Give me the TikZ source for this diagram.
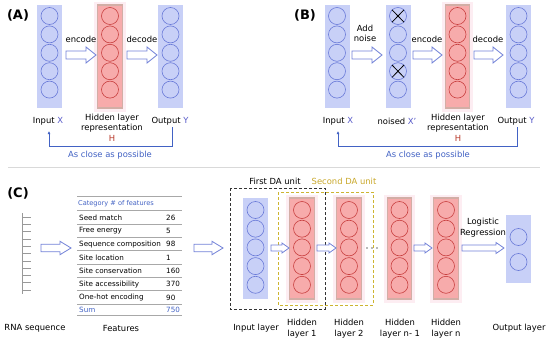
\documentclass[tikz,border=0pt]{standalone}
\usepackage{fontspec}
\setmainfont{DejaVu Sans}
\usetikzlibrary{arrows.meta}
\definecolor{bfill}{HTML}{C8D0F7}
\definecolor{bcircc}{HTML}{6A7AD8}
\definecolor{rfill}{HTML}{F7ABAB}
\definecolor{rborder}{HTML}{D2AEA6}
\definecolor{rcircc}{HTML}{C84040}
\definecolor{halopink}{HTML}{FDEDF2}
\definecolor{arrline}{HTML}{7282D8}
\definecolor{tblue}{HTML}{4262C4}
\definecolor{xblue}{HTML}{5558C8}
\definecolor{hred}{HTML}{B83A2A}
\definecolor{dagold}{HTML}{CDB430}
\definecolor{dagoldtext}{HTML}{C9A82A}
\definecolor{tline}{HTML}{A8A8A8}
\tikzset{
  bcol/.style={rectangle, fill=bfill, draw=none, minimum width=25pt, inner sep=0},
  rcol/.style={rectangle, fill=rfill, draw=rborder, line width=1.2pt, minimum width=24.5pt, inner sep=0,
     preaction={draw=halopink, line width=7pt}},
  bcirc/.style={draw=bcircc, line width=0.6pt},
  rcirc/.style={draw=rcircc, line width=0.6pt},
  lbl/.style={font=\fontsize{8.4}{10.5}\selectfont, inner sep=0, align=center},
  tbl/.style={font=\fontsize{7.2}{8}\selectfont, inner sep=0, anchor=west},
  tblh/.style={font=\fontsize{6.6}{8}\selectfont, inner sep=0, anchor=west},
  ttl/.style={font=\fontsize{13}{14}\selectfont\bfseries, inner sep=0},
  barr/.style={draw=arrline, fill=white, line width=0.8pt, line join=miter},
  fb/.style={draw=tblue, line width=0.7pt, -{Latex[length=3pt,width=3pt]}},
  tl/.style={draw=tline, line width=0.7pt},
}
\newcommand{\nnlayer}[6]{%
  \node[#2col, minimum height={#5-#4}] (#1) at (#3,{(#4+#5)/2}) {};
  \foreach \cy in {#6} \draw[#2circ] (#3,\cy) circle[radius=8.5];
}
% x1, x2, y, shaft half, head half, head length
\newcommand{\barrow}[6]{%
  \draw[barr] (#1,{#3-#4}) -- ({#2-#6},{#3-#4}) -- ({#2-#6},{#3-#5}) -- (#2,#3)
   -- ({#2-#6},{#3+#5}) -- ({#2-#6},{#3+#4}) -- (#1,{#3+#4}) -- cycle;
}
\begin{document}
\begin{tikzpicture}[x=1pt,y=-1pt]
\useasboundingbox (0,0) rectangle (550,343);
\fill[white] (0,0) rectangle (550,343);

% ---------- Panel A ----------
\node[ttl] (tA) at (18,15) {(A)};
\nnlayer{inA}{b}{49.5}{5}{108}{16,34.4,52.8,71.2,89.6}
\nnlayer{hidA}{r}{110}{5}{108}{16,34.4,52.8,71.2,89.6}
\nnlayer{outA}{b}{170.5}{5}{108}{16,34.4,52.8,71.2,89.6}
\barrow{66}{96}{55}{4}{8}{10}
\barrow{127}{157}{55}{4}{8}{10}
\node[lbl] (encA) at (81,39) {encode};
\node[lbl] (decA) at (142,39) {decode};
\node[lbl] (inAl) at (48,121) {Input \textcolor{xblue}{X}};
\node[lbl] (hidAl) at (112,127.5) {Hidden layer\\representation\\\textcolor{hred}{H}};
\node[lbl] (outAl) at (170,121) {Output \textcolor{xblue}{Y}};
\coordinate (fbA1) at (172,127);
\coordinate (fbA2) at (49,146);
\coordinate (fbA3) at (49,131);
\draw[fb] (fbA1) |- (fbA2) -- (fbA3);
\node[lbl, text=tblue] (closeA) at (110,155) {As close as possible};

% ---------- Panel B ----------
\node[ttl] (tB) at (305,15) {(B)};
\nnlayer{inB}{b}{337}{5}{108}{16,34.4,52.8,71.2,89.6}
\nnlayer{noB}{b}{398}{5}{108}{16,34.4,52.8,71.2,89.6}
\nnlayer{hidB}{r}{457.5}{5}{108}{16,34.4,52.8,71.2,89.6}
\nnlayer{outB}{b}{518.5}{5}{108}{16,34.4,52.8,71.2,89.6}
\foreach \cy in {16,71.2} {
  \draw[black, line width=0.8pt] (392,\cy-6.2) -- (404,\cy+6.2);
  \draw[black, line width=0.8pt] (392,\cy+6.2) -- (404,\cy-6.2);
}
\barrow{352}{382}{55}{4}{8}{10}
\barrow{413}{442}{55}{4}{8}{10}
\barrow{474}{503}{55}{4}{8}{10}
\node[lbl] (noiseB) at (365,33.5) {Add\\noise};
\node[lbl] (encB) at (427,39) {encode};
\node[lbl] (decB) at (488,39) {decode};
\node[lbl] (inBl) at (338,121) {Input \textcolor{xblue}{X}};
\node[lbl] (noBl) at (397,121) {noised \textcolor{xblue}{X'}};
\node[lbl] (hidBl) at (458,127.5) {Hidden layer\\representation\\\textcolor{hred}{H}};
\node[lbl] (outBl) at (516,121) {Output \textcolor{xblue}{Y}};
\coordinate (fbB1) at (517,127);
\coordinate (fbB2) at (338,146);
\coordinate (fbB3) at (338,131);
\draw[fb] (fbB1) |- (fbB2) -- (fbB3);
\node[lbl, text=tblue] (closeB) at (428,155) {As close as possible};

% separator
\draw[draw=black!15, line width=0.6pt] (8,167) -- (540,167);

% ---------- Panel C ----------
\node[ttl] (tC) at (18,193) {(C)};
% RNA sequence
\draw[draw=black!40, line width=0.8pt] (22,213) -- (22,294);
\foreach \k in {0,...,10} \draw[draw=black!40, line width=0.6pt] (22,{217+7.3*\k}) -- (31,{217+7.3*\k});
\node[lbl] (rnal) at (35,328) {RNA sequence};
\barrow{41}{71}{248}{3.7}{6.7}{11}

% Table
\draw[tl] (77,196.7) -- (182,196.7);
\foreach \k in {0,...,7} \draw[tl] (77,{210.7+13.33*\k}) -- (182,{210.7+13.33*\k});
\draw[tl] (77,315) -- (182,315);
\node[tblh, text=tblue] (thead) at (78,204) {Category \# of features};
\foreach \name/\num [count=\i from 0] in {Seed match/26, Free energy/5, Sequence composition/98,
   Site location/1, Site conservation/160, Site accessibility/370, One-hot encoding/90} {
  \node[tbl] at (79,{217.4+13.33*\i}) {\name};
  \node[tbl] at (166,{217.4+13.33*\i}) {\num};
}
\node[tbl, text=tblue] (sumt) at (79,310) {Sum};
\node[tbl, text=tblue] (sumn) at (166,310) {750};
\node[lbl] (featl) at (121,328) {Features};
\barrow{194}{223}{248}{3.7}{6.7}{11}

% layers
\nnlayer{inC}{b}{255.5}{198}{299}{210,228.7,247.4,266.1,284.8}
\nnlayer{h1}{r}{302}{198}{299}{210,228.7,247.4,266.1,284.8}
\nnlayer{h2}{r}{349}{198}{299}{210,228.7,247.4,266.1,284.8}
\nnlayer{hn1}{r}{399.5}{198}{299}{210,228.7,247.4,266.1,284.8}
\nnlayer{hn}{r}{446}{198}{299}{210,228.7,247.4,266.1,284.8}
\nnlayer{outC}{b}{518.5}{215}{283}{237,262}

% dashed DA units
\draw[black!80, line width=0.9pt, dash pattern=on 3pt off 2pt] (230,188) rectangle (325,309);
\draw[dagold, line width=0.9pt, dash pattern=on 3pt off 2pt] (278,192) rectangle (373,305);
\node[lbl] (da1) at (275,181) {First DA unit};
\node[lbl, text=dagoldtext] (da2) at (344,181) {Second DA unit};

\barrow{271}{289}{248}{3}{5}{7}
\barrow{317}{336}{248}{3}{5}{7}
\barrow{414}{432}{248}{3}{5}{7}
\barrow{462}{504}{248}{3}{5.5}{8}
\foreach \dx in {367,372,377} \fill[black!55] (\dx,248) circle[radius=0.8];
\node[lbl] (logr) at (483,227.5) {Logistic\\Regression};

\node[lbl] (inCl) at (256,328) {Input layer};
\node[lbl] (h1l) at (302,328.5) {Hidden\\layer 1};
\node[lbl] (h2l) at (349,328.5) {Hidden\\layer 2};
\node[lbl] (hn1l) at (400,328.5) {Hidden\\layer n- 1};
\node[lbl] (hnl) at (446,328.5) {Hidden\\layer n};
\node[lbl] (outCl) at (519,328) {Output layer};
\end{tikzpicture}
\end{document}
